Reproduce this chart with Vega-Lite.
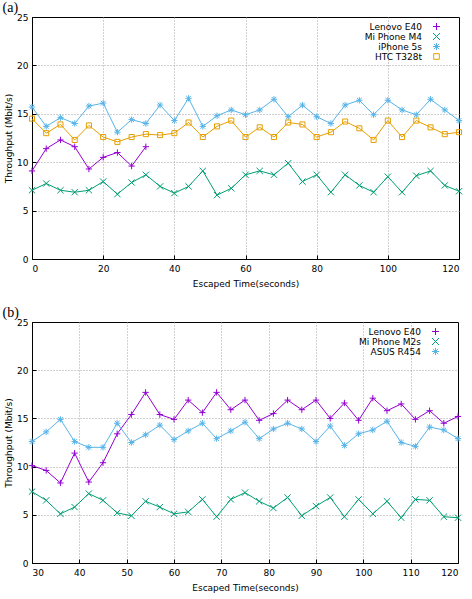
{
  "$schema": "https://vega.github.io/schema/vega-lite/v6.json",
  "padding": {"left": 2, "top": 0, "right": 8, "bottom": 0},
  "spacing": 16,
  "background": "white",
  "datasets": {
    "a": [
      {"t":0,"d":"iPhone 5s","v":15.7},{"t":4,"d":"iPhone 5s","v":13.7},{"t":8,"d":"iPhone 5s","v":14.6},{"t":12,"d":"iPhone 5s","v":14.0},{"t":16,"d":"iPhone 5s","v":15.8},{"t":20,"d":"iPhone 5s","v":16.1},{"t":24,"d":"iPhone 5s","v":13.1},{"t":28,"d":"iPhone 5s","v":14.4},{"t":32,"d":"iPhone 5s","v":14.0},{"t":36,"d":"iPhone 5s","v":15.9},{"t":40,"d":"iPhone 5s","v":14.3},{"t":44,"d":"iPhone 5s","v":16.6},{"t":48,"d":"iPhone 5s","v":13.7},{"t":52,"d":"iPhone 5s","v":14.8},{"t":56,"d":"iPhone 5s","v":15.4},{"t":60,"d":"iPhone 5s","v":14.9},{"t":64,"d":"iPhone 5s","v":15.4},{"t":68,"d":"iPhone 5s","v":16.5},{"t":72,"d":"iPhone 5s","v":14.7},{"t":76,"d":"iPhone 5s","v":15.9},{"t":80,"d":"iPhone 5s","v":14.7},{"t":84,"d":"iPhone 5s","v":14.0},{"t":88,"d":"iPhone 5s","v":15.9},{"t":92,"d":"iPhone 5s","v":16.4},{"t":96,"d":"iPhone 5s","v":14.9},{"t":100,"d":"iPhone 5s","v":16.4},{"t":104,"d":"iPhone 5s","v":15.4},{"t":108,"d":"iPhone 5s","v":14.9},{"t":112,"d":"iPhone 5s","v":16.5},{"t":116,"d":"iPhone 5s","v":15.4},{"t":120,"d":"iPhone 5s","v":14.3},
      {"t":0,"d":"HTC T328t","v":14.5},{"t":4,"d":"HTC T328t","v":13.0},{"t":8,"d":"HTC T328t","v":13.9},{"t":12,"d":"HTC T328t","v":12.3},{"t":16,"d":"HTC T328t","v":13.8},{"t":20,"d":"HTC T328t","v":12.6},{"t":24,"d":"HTC T328t","v":12.1},{"t":28,"d":"HTC T328t","v":12.6},{"t":32,"d":"HTC T328t","v":12.9},{"t":36,"d":"HTC T328t","v":12.8},{"t":40,"d":"HTC T328t","v":13.0},{"t":44,"d":"HTC T328t","v":14.1},{"t":48,"d":"HTC T328t","v":12.6},{"t":52,"d":"HTC T328t","v":13.7},{"t":56,"d":"HTC T328t","v":14.3},{"t":60,"d":"HTC T328t","v":12.6},{"t":64,"d":"HTC T328t","v":13.6},{"t":68,"d":"HTC T328t","v":12.6},{"t":72,"d":"HTC T328t","v":14.1},{"t":76,"d":"HTC T328t","v":13.9},{"t":80,"d":"HTC T328t","v":12.6},{"t":84,"d":"HTC T328t","v":13.1},{"t":88,"d":"HTC T328t","v":14.2},{"t":92,"d":"HTC T328t","v":13.5},{"t":96,"d":"HTC T328t","v":12.3},{"t":100,"d":"HTC T328t","v":14.3},{"t":104,"d":"HTC T328t","v":12.6},{"t":108,"d":"HTC T328t","v":14.3},{"t":112,"d":"HTC T328t","v":13.6},{"t":116,"d":"HTC T328t","v":12.9},{"t":120,"d":"HTC T328t","v":13.1},
      {"t":0,"d":"Lenovo E40","v":9.1},{"t":4,"d":"Lenovo E40","v":11.4},{"t":8,"d":"Lenovo E40","v":12.3},{"t":12,"d":"Lenovo E40","v":11.6},{"t":16,"d":"Lenovo E40","v":9.3},{"t":20,"d":"Lenovo E40","v":10.5},{"t":24,"d":"Lenovo E40","v":11.0},{"t":28,"d":"Lenovo E40","v":9.6},{"t":32,"d":"Lenovo E40","v":11.6},
      {"t":0,"d":"Mi Phone M4","v":7.1},{"t":4,"d":"Mi Phone M4","v":7.8},{"t":8,"d":"Mi Phone M4","v":7.1},{"t":12,"d":"Mi Phone M4","v":6.9},{"t":16,"d":"Mi Phone M4","v":7.1},{"t":20,"d":"Mi Phone M4","v":8.0},{"t":24,"d":"Mi Phone M4","v":6.7},{"t":28,"d":"Mi Phone M4","v":7.9},{"t":32,"d":"Mi Phone M4","v":8.7},{"t":36,"d":"Mi Phone M4","v":7.5},{"t":40,"d":"Mi Phone M4","v":6.8},{"t":44,"d":"Mi Phone M4","v":7.5},{"t":48,"d":"Mi Phone M4","v":9.1},{"t":52,"d":"Mi Phone M4","v":6.6},{"t":56,"d":"Mi Phone M4","v":7.3},{"t":60,"d":"Mi Phone M4","v":8.7},{"t":64,"d":"Mi Phone M4","v":9.1},{"t":68,"d":"Mi Phone M4","v":8.7},{"t":72,"d":"Mi Phone M4","v":9.9},{"t":76,"d":"Mi Phone M4","v":8.0},{"t":80,"d":"Mi Phone M4","v":8.7},{"t":84,"d":"Mi Phone M4","v":6.9},{"t":88,"d":"Mi Phone M4","v":8.7},{"t":92,"d":"Mi Phone M4","v":7.6},{"t":96,"d":"Mi Phone M4","v":6.9},{"t":100,"d":"Mi Phone M4","v":8.5},{"t":104,"d":"Mi Phone M4","v":6.9},{"t":108,"d":"Mi Phone M4","v":8.6},{"t":112,"d":"Mi Phone M4","v":9.1},{"t":116,"d":"Mi Phone M4","v":7.6},{"t":120,"d":"Mi Phone M4","v":7.0}
    ],
    "b": [
      {"t":30,"d":"Lenovo E40","v":10.1},{"t":33,"d":"Lenovo E40","v":9.6},{"t":36,"d":"Lenovo E40","v":8.3},{"t":39,"d":"Lenovo E40","v":11.4},{"t":42,"d":"Lenovo E40","v":8.4},{"t":45,"d":"Lenovo E40","v":10.4},{"t":48,"d":"Lenovo E40","v":13.4},{"t":51,"d":"Lenovo E40","v":15.4},{"t":54,"d":"Lenovo E40","v":17.7},{"t":57,"d":"Lenovo E40","v":15.4},{"t":60,"d":"Lenovo E40","v":14.9},{"t":63,"d":"Lenovo E40","v":16.9},{"t":66,"d":"Lenovo E40","v":15.6},{"t":69,"d":"Lenovo E40","v":17.7},{"t":72,"d":"Lenovo E40","v":15.9},{"t":75,"d":"Lenovo E40","v":16.9},{"t":78,"d":"Lenovo E40","v":14.8},{"t":81,"d":"Lenovo E40","v":15.5},{"t":84,"d":"Lenovo E40","v":16.9},{"t":87,"d":"Lenovo E40","v":15.9},{"t":90,"d":"Lenovo E40","v":16.9},{"t":93,"d":"Lenovo E40","v":15.0},{"t":96,"d":"Lenovo E40","v":16.6},{"t":99,"d":"Lenovo E40","v":14.8},{"t":102,"d":"Lenovo E40","v":17.1},{"t":105,"d":"Lenovo E40","v":15.8},{"t":108,"d":"Lenovo E40","v":16.5},{"t":111,"d":"Lenovo E40","v":14.9},{"t":114,"d":"Lenovo E40","v":15.8},{"t":117,"d":"Lenovo E40","v":14.5},{"t":120,"d":"Lenovo E40","v":15.2},
      {"t":30,"d":"ASUS R454","v":12.6},{"t":33,"d":"ASUS R454","v":13.6},{"t":36,"d":"ASUS R454","v":14.9},{"t":39,"d":"ASUS R454","v":12.6},{"t":42,"d":"ASUS R454","v":12.0},{"t":45,"d":"ASUS R454","v":12.0},{"t":48,"d":"ASUS R454","v":14.5},{"t":51,"d":"ASUS R454","v":12.5},{"t":54,"d":"ASUS R454","v":13.3},{"t":57,"d":"ASUS R454","v":14.3},{"t":60,"d":"ASUS R454","v":12.8},{"t":63,"d":"ASUS R454","v":13.7},{"t":66,"d":"ASUS R454","v":14.5},{"t":69,"d":"ASUS R454","v":12.9},{"t":72,"d":"ASUS R454","v":13.7},{"t":75,"d":"ASUS R454","v":14.6},{"t":78,"d":"ASUS R454","v":12.9},{"t":81,"d":"ASUS R454","v":13.9},{"t":84,"d":"ASUS R454","v":14.5},{"t":87,"d":"ASUS R454","v":13.9},{"t":90,"d":"ASUS R454","v":12.6},{"t":93,"d":"ASUS R454","v":14.2},{"t":96,"d":"ASUS R454","v":12.2},{"t":99,"d":"ASUS R454","v":13.4},{"t":102,"d":"ASUS R454","v":13.8},{"t":105,"d":"ASUS R454","v":14.7},{"t":108,"d":"ASUS R454","v":12.5},{"t":111,"d":"ASUS R454","v":12.1},{"t":114,"d":"ASUS R454","v":14.1},{"t":117,"d":"ASUS R454","v":13.8},{"t":120,"d":"ASUS R454","v":12.9},
      {"t":30,"d":"Mi Phone M2s","v":7.4},{"t":33,"d":"Mi Phone M2s","v":6.5},{"t":36,"d":"Mi Phone M2s","v":5.1},{"t":39,"d":"Mi Phone M2s","v":5.8},{"t":42,"d":"Mi Phone M2s","v":7.2},{"t":45,"d":"Mi Phone M2s","v":6.5},{"t":48,"d":"Mi Phone M2s","v":5.2},{"t":51,"d":"Mi Phone M2s","v":4.9},{"t":54,"d":"Mi Phone M2s","v":6.4},{"t":57,"d":"Mi Phone M2s","v":5.8},{"t":60,"d":"Mi Phone M2s","v":5.1},{"t":63,"d":"Mi Phone M2s","v":5.3},{"t":66,"d":"Mi Phone M2s","v":6.6},{"t":69,"d":"Mi Phone M2s","v":4.8},{"t":72,"d":"Mi Phone M2s","v":6.6},{"t":75,"d":"Mi Phone M2s","v":7.3},{"t":78,"d":"Mi Phone M2s","v":6.4},{"t":81,"d":"Mi Phone M2s","v":5.7},{"t":84,"d":"Mi Phone M2s","v":6.8},{"t":87,"d":"Mi Phone M2s","v":4.9},{"t":90,"d":"Mi Phone M2s","v":5.9},{"t":93,"d":"Mi Phone M2s","v":6.8},{"t":96,"d":"Mi Phone M2s","v":4.8},{"t":99,"d":"Mi Phone M2s","v":6.6},{"t":102,"d":"Mi Phone M2s","v":5.1},{"t":105,"d":"Mi Phone M2s","v":6.4},{"t":108,"d":"Mi Phone M2s","v":4.7},{"t":111,"d":"Mi Phone M2s","v":6.6},{"t":114,"d":"Mi Phone M2s","v":6.5},{"t":117,"d":"Mi Phone M2s","v":4.8},{"t":120,"d":"Mi Phone M2s","v":4.7}
    ]
  },
  "resolve": {"scale": {"color": "independent", "shape": "independent"}, "legend": {"color": "independent", "shape": "independent"}},
  "vconcat": [
    {
      "width": 427,
      "height": 242,
      "title": {"text": "(a)", "anchor": "start", "frame": "bounds", "font": "Liberation Serif", "fontSize": 14, "fontWeight": "normal", "dx": -2, "offset": -2},
      "encoding": {
        "x": {"field": "t", "type": "quantitative", "scale": {"domain": [0, 120], "nice": false}, "axis": {"values": [0, 20, 40, 60, 80, 100, 120], "title": "Escaped Time(seconds)"}},
        "y": {"field": "v", "type": "quantitative", "scale": {"domain": [0, 25], "nice": false}, "axis": {"values": [0, 5, 10, 15, 20, 25], "title": "Throughput (Mbit/s)"}}
      },
      "layer": [
        {
          "data": {"name": "a"},
          "mark": {"type": "point", "filled": false, "size": 40, "strokeWidth": 1, "opacity": 1},
          "encoding": {
            "color": {"field": "d", "type": "nominal", "title": null, "scale": {"domain": ["Lenovo E40", "Mi Phone M4", "iPhone 5s", "HTC T328t"], "range": ["#9400d3", "#009e73", "#56b4e9", "#e69f00"]},
              "legend": {"orient": "none", "legendX": 400, "legendY": 5, "padding": 0, "labelAlign": "right", "labelOffset": -19, "rowPadding": -1, "symbolSize": 49, "symbolStrokeWidth": 1, "labelFontSize": 9, "labelColor": "black"}
            },
            "shape": {"field": "d", "type": "nominal", "title": null, "scale": {"domain": ["Lenovo E40", "Mi Phone M4", "iPhone 5s", "HTC T328t"], "range": ["M-1,0L1,0M0,-1L0,1", "M-1,-1L1,1M-1,1L1,-1", "M-1,0L1,0M0,-1L0,1M-0.75,-0.75L0.75,0.75M-0.75,0.75L0.75,-0.75", "M-0.8,-0.8L0.8,-0.8L0.8,0.8L-0.8,0.8Z"]},
              "legend": {"orient": "none", "legendX": 400, "legendY": 5, "padding": 0, "labelAlign": "right", "labelOffset": -19, "rowPadding": -1, "symbolSize": 49, "symbolStrokeWidth": 1, "labelFontSize": 9, "labelColor": "black"}
            }
          }
        },
        {
          "data": {"name": "a"},
          "mark": {"type": "line", "strokeWidth": 1},
          "encoding": {
            "color": {"field": "d", "type": "nominal", "title": null, "scale": {"domain": ["Lenovo E40", "Mi Phone M4", "iPhone 5s", "HTC T328t"], "range": ["#9400d3", "#009e73", "#56b4e9", "#e69f00"]},
              "legend": {"orient": "none", "legendX": 400, "legendY": 5, "padding": 0, "labelAlign": "right", "labelOffset": -19, "rowPadding": -1, "symbolSize": 49, "symbolStrokeWidth": 1, "labelFontSize": 9, "labelColor": "black"}
            },
            "detail": {"field": "d"}
          }
        },
        {
          "data": {"values": [{}]},
          "mark": {"type": "text", "align": "left", "baseline": "middle", "fontSize": 11, "font": "DejaVu Sans", "fontWeight": "normal", "color": "black"},
          "encoding": {
            "x": {"datum": 6.5, "type": "quantitative"},
            "y": {"datum": 22.5, "type": "quantitative"},
            "text": {"value": "pAP2"}
          }
        }
      ]
    },
    {
      "width": 426,
      "height": 241,
      "title": {"text": "(b)", "anchor": "start", "frame": "bounds", "font": "Liberation Serif", "fontSize": 14, "fontWeight": "normal", "dx": -2, "offset": -2},
      "encoding": {
        "x": {"field": "t", "type": "quantitative", "scale": {"domain": [30, 120], "nice": false}, "axis": {"values": [30, 40, 50, 60, 70, 80, 90, 100, 110, 120], "title": "Escaped Time(seconds)"}},
        "y": {"field": "v", "type": "quantitative", "scale": {"domain": [0, 25], "nice": false}, "axis": {"values": [0, 5, 10, 15, 20, 25], "title": "Throughput (Mbit/s)"}}
      },
      "layer": [
        {
          "data": {"name": "b"},
          "mark": {"type": "point", "filled": false, "size": 40, "strokeWidth": 1, "opacity": 1},
          "encoding": {
            "color": {"field": "d", "type": "nominal", "title": null, "scale": {"domain": ["Lenovo E40", "Mi Phone M2s", "ASUS R454"], "range": ["#9400d3", "#009e73", "#56b4e9"]},
              "legend": {"orient": "none", "legendX": 399, "legendY": 5, "padding": 0, "labelAlign": "right", "labelOffset": -19, "rowPadding": -1, "symbolSize": 49, "symbolStrokeWidth": 1, "labelFontSize": 9, "labelColor": "black"}
            },
            "shape": {"field": "d", "type": "nominal", "title": null, "scale": {"domain": ["Lenovo E40", "Mi Phone M2s", "ASUS R454"], "range": ["M-1,0L1,0M0,-1L0,1", "M-1,-1L1,1M-1,1L1,-1", "M-1,0L1,0M0,-1L0,1M-0.75,-0.75L0.75,0.75M-0.75,0.75L0.75,-0.75"]},
              "legend": {"orient": "none", "legendX": 399, "legendY": 5, "padding": 0, "labelAlign": "right", "labelOffset": -19, "rowPadding": -1, "symbolSize": 49, "symbolStrokeWidth": 1, "labelFontSize": 9, "labelColor": "black"}
            }
          }
        },
        {
          "data": {"name": "b"},
          "mark": {"type": "line", "strokeWidth": 1},
          "encoding": {
            "color": {"field": "d", "type": "nominal", "title": null, "scale": {"domain": ["Lenovo E40", "Mi Phone M2s", "ASUS R454"], "range": ["#9400d3", "#009e73", "#56b4e9"]},
              "legend": {"orient": "none", "legendX": 399, "legendY": 5, "padding": 0, "labelAlign": "right", "labelOffset": -19, "rowPadding": -1, "symbolSize": 49, "symbolStrokeWidth": 1, "labelFontSize": 9, "labelColor": "black"}
            },
            "detail": {"field": "d"}
          }
        },
        {
          "data": {"values": [{}]},
          "mark": {"type": "text", "align": "left", "baseline": "middle", "fontSize": 11, "font": "DejaVu Sans", "fontWeight": "normal", "color": "black"},
          "encoding": {
            "x": {"datum": 32.7, "type": "quantitative"},
            "y": {"datum": 22.4, "type": "quantitative"},
            "text": {"value": "pAP1"}
          }
        }
      ]
    }
  ],
  "config": {
    "font": "DejaVu Sans",
    "view": {"stroke": "black", "strokeWidth": 1},
    "title": {"color": "black"},
    "axis": {"grid": true, "gridColor": "#a0a0a0", "gridDash": [1, 2], "gridOpacity": {"condition": {"test": "datum.value == 0 || datum.value == 25 || datum.value == 30 || datum.value == 120", "value": 0}, "value": 1}, "domainColor": "black", "tickColor": "black", "tickSize": -4, "labelFontSize": 9, "titleFontSize": 9, "titleFontWeight": "normal", "labelColor": "black", "titleColor": "black", "labelFont": "DejaVu Sans", "titleFont": "DejaVu Sans"},
    "axisX": {"labelPadding": 9, "titlePadding": 6},
    "axisY": {"labelPadding": 8, "titlePadding": 3}
  }
}
